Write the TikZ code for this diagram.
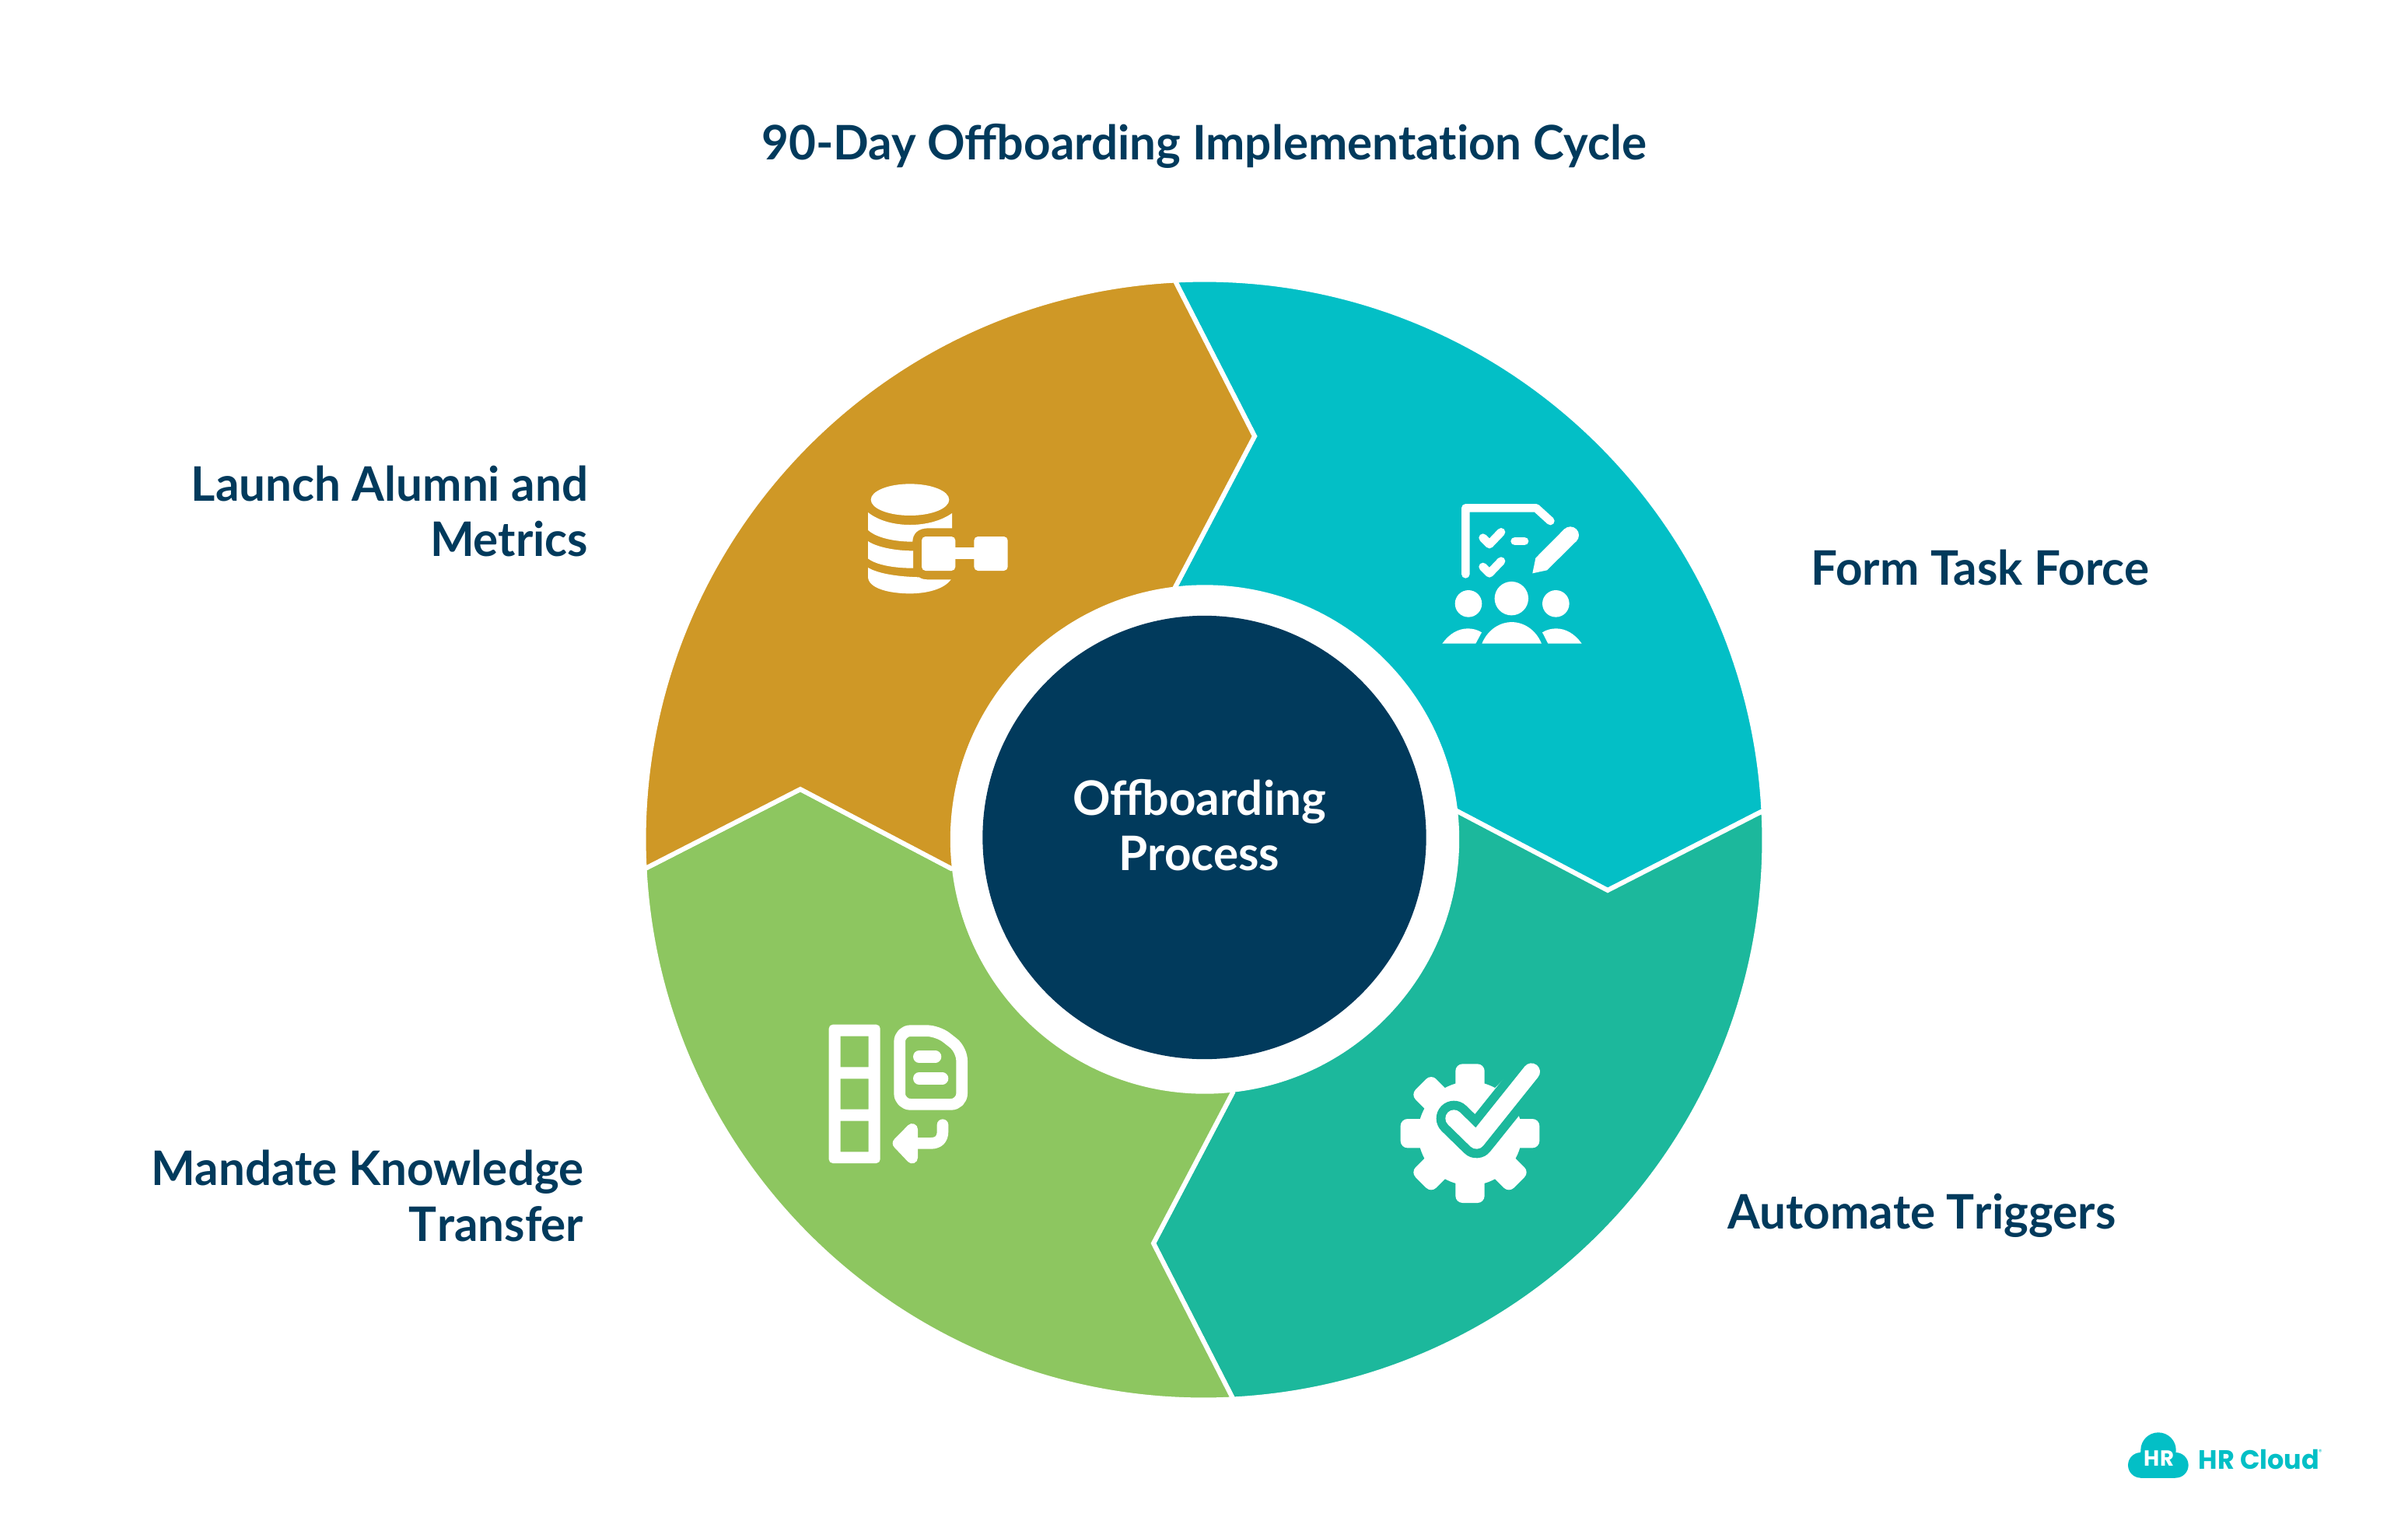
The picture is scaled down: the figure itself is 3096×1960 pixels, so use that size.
\documentclass[tikz,border=0pt]{standalone}
\usepackage{fontspec}
\setmainfont[FakeStretch=0.983]{Lato}
\newfontfamily\logofont[FakeStretch=0.98]{Poppins}
\definecolor{navy}{HTML}{013A5C}
\definecolor{segteal}{HTML}{03BFC6}
\definecolor{segsea}{HTML}{1CB89C}
\definecolor{seggreen}{HTML}{8DC660}
\definecolor{seggold}{HTML}{CF9826}
\tikzset{
  seg/.style={draw=white,line width=0.06cm,line join=miter},
  lbl/.style={text=navy,font=\fontsize{17.4}{20.35}\selectfont\bfseries,inner sep=0pt},
  icon/.style={shift={#1},x=0.01cm/3,y=-0.01cm/3},
  ico/.style={draw=white,line cap=round,line join=round,line width=#1*0.01cm/3},
}
\begin{document}
\begin{tikzpicture}[x=0.01cm,y=-0.01cm]
\useasboundingbox[fill=white] (0,0) rectangle (3096,1960);
\coordinate (c) at (1548,1080);
\coordinate (o1) at ([shift={(92.986:7.2cm)}]c);
\coordinate (o2) at ([shift={(2.986:7.2cm)}]c);
\coordinate (o3) at ([shift={(-87.014:7.2cm)}]c);
\coordinate (o4) at ([shift={(-177.014:7.2cm)}]c);
\coordinate (n1) at (1613,561);
\coordinate (n2) at (2067,1145);
\coordinate (n3) at (1483,1599);
\coordinate (n4) at (1029,1015);
\coordinate (i1) at (1511,755);
\coordinate (i2) at (1873,1043);
\coordinate (i3) at (1585,1405);
\coordinate (i4) at (1223,1117);
% segments
\filldraw[seg,fill=segteal] (o1) arc[start angle=92.986,end angle=2.986,radius=7.2cm] -- (n2) -- (i2) -- (c) -- (i1) -- (n1) -- cycle;
\filldraw[seg,fill=segsea] (o2) arc[start angle=2.986,end angle=-87.014,radius=7.2cm] -- (n3) -- (i3) -- (c) -- (i2) -- (n2) -- cycle;
\filldraw[seg,fill=seggreen] (o3) arc[start angle=-87.014,end angle=-177.014,radius=7.2cm] -- (n4) -- (i4) -- (c) -- (i3) -- (n3) -- cycle;
\filldraw[seg,fill=seggold] (o4) arc[start angle=-177.014,end angle=-267.014,radius=7.2cm] -- (n1) -- (i1) -- (c) -- (i4) -- (n4) -- cycle;
\fill[white] (1549,1079.5) circle[radius=3.27cm];
\fill[navy] (1548.5,1077) circle[radius=2.85cm];
% labels
\node[lbl,anchor=base] (title) at (1548,205) {90-Day Offboarding Implementat\kern0pt ion Cycle};
\node[lbl,anchor=base west] (form) at (2328,752) {Form Task Force};
\node[lbl,anchor=base west] (auto) at (2221,1580) {Automate T\kern0pt riggers};
\node[lbl,anchor=base east] (launchA) at (757,644) {Launch Alumni and};
\node[lbl,anchor=base east] (launchB) at (757,715) {Metrics};
\node[lbl,anchor=base east] (mandA) at (751,1524) {Mandate Knowledge};
\node[lbl,anchor=base east] (mandB) at (751,1596) {T\kern0pt ransfer};
\node[lbl,text=white,anchor=base] (procA) at (1542,1048) {Offboarding};
\node[lbl,text=white,anchor=base] (procB) at (1542,1119) {Process};
% icon: task force
\begin{scope}[icon={(1800,620)}]
\draw[ico=32,fill=none] (253,355) -- (253,100) -- (525,100) -- (580,150);
\draw[ico=32] (320,215) -- (345,240) -- (390,193);
\draw[ico=32] (320,327) -- (345,352) -- (390,305);
\draw[ico=32] (443,228) -- (480,228);
\fill[white] (511,352) -- (523,293) -- (634,181) -- (680,228) -- (567,340) -- cycle;
\fill[white] (657,205) circle[radius=0.11cm];
\fill[white] (264,469) circle[radius=0.173cm];
\fill[white] (430,449) circle[radius=0.217cm];
\fill[white] (601,469) circle[radius=0.173cm];
\fill[white] (316,623) .. controls (340,565) and (390,540) .. (431,540) .. controls (472,540) and (522,565) .. (546,623) -- cycle;
\fill[white] (163,623) .. controls (190,585) and (225,565) .. (262,565) .. controls (280,565) and (300,570) .. (315,580) -- (292,623) -- cycle;
\fill[white] (701,623) .. controls (674,585) and (639,565) .. (602,565) .. controls (584,565) and (564,570) .. (549,580) -- (571,623) -- cycle;
\end{scope}
% icon: database
\begin{scope}[icon={(1090,600)}]
\fill[white] (240,128) ellipse[x radius=0.503cm,y radius=0.203cm];
\fill[white] (78,177) .. controls (120,210) and (180,225) .. (240,225) .. controls (300,225) and (360,210) .. (402,180) -- (402,238) -- (310,238) .. controls (270,238) and (250,260) .. (250,290) .. controls (180,290) and (110,275) .. (78,245) -- cycle;
\fill[white] (78,288) .. controls (110,310) and (180,325) .. (252,325) -- (252,392) .. controls (180,392) and (110,380) .. (78,355) -- cycle;
\fill[white] (78,390) .. controls (120,415) and (200,425) .. (275,427) .. controls (285,435) and (300,436) .. (315,436) -- (398,436) .. controls (370,475) and (300,490) .. (240,490) .. controls (160,490) and (78,470) .. (78,425) -- cycle;
\fill[white,rounded corners=0.05cm] (285,270) rectangle (415,402);
\fill[white,rounded corners=0.05cm] (487,270) rectangle (617,402);
\fill[white] (410,313) rectangle (492,357);
\end{scope}
% icon: knowledge transfer
\begin{scope}[icon={(1040,1290)}]
\fill[white,rounded corners=0.05cm,even odd rule] (77,83) rectangle (275,618)
  [sharp corners] (122,128) rectangle (230,247) (122,292) rectangle (230,410) (122,455) rectangle (230,574);
\draw[ico=44,rounded corners=0.14cm,fill=none] (350,250) -- (350,107) -- (497,107) -- (590,180) -- (590,391) -- (350,391) -- cycle;
\draw[ico=46] (425,207) -- (488,207);
\draw[ico=46] (425,291) -- (515,291);
\draw[ico=44,fill=none] (516,470) -- (516,495) .. controls (516,525) and (500,541) .. (470,541) -- (400,541);
\filldraw[ico=44,fill=white] (345,541) -- (398,487) -- (398,597) -- cycle;
\end{scope}
% icon: gear with check
\begin{scope}[icon={(1780,1350)}]
\fill[white] (330,323) circle[radius=0.667cm];
\foreach \a in {0,45,...,315}
  \fill[white,rotate around={\a:(330,323)},rounded corners=0.09cm] (274,55) rectangle (386,220);
\draw[ico=136,draw=segsea] (268,265) -- (355,350) -- (620,20);
\draw[ico=66] (268,265) -- (355,350) -- (567,85);
\end{scope}
% logo
\begin{scope}[icon={(2720,1820)}]
\fill[segteal] (165,135) circle[radius=0.227cm];
\fill[segteal] (97,193) circle[radius=0.163cm];
\fill[segteal] (232,193) circle[radius=0.163cm];
\fill[segteal] (97,140) rectangle (232,242);
\node[text=white,inner sep=0pt,font=\logofont\fontsize{8}{10}\selectfont\bfseries] (logoHR) at (168,167) {HR};
\node[text=segteal,inner sep=0pt,anchor=base west,font=\logofont\fontsize{9.7}{11}\selectfont\bfseries] (logoname) at (318,207) {HR Cloud};
\node[text=segteal,inner sep=0pt,font=\logofont\fontsize{2.5}{3}\selectfont] (logoreg) at (790,141) {®};
\end{scope}
\end{tikzpicture}
\end{document}
